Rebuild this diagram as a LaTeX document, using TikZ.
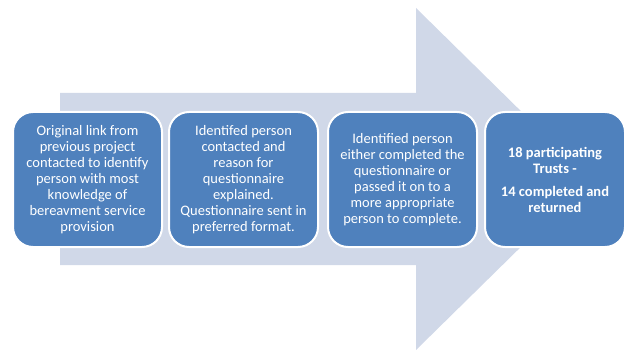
\documentclass[tikz,border=0pt]{standalone}
\usepackage{fontspec}
\setmainfont{Carlito}
\definecolor{arrowfill}{HTML}{D0D8E8}
\definecolor{stepfill}{HTML}{4F81BD}
\begin{document}
\begin{tikzpicture}[x=1pt,y=-1pt,
  stepbox/.style={draw=white, line width=2pt, fill=stepfill, rounded corners=20pt,
    minimum height=135pt, text=white, align=center, inner sep=0pt,
    font=\fontsize{14.5}{16}\selectfont}]
\useasboundingbox (0,0) rectangle (626,350);
% broad background arrow
\fill[arrowfill] (60,93) -- (416,93) -- (416,8) -- (590,179) -- (416,350)
  -- (416,265) -- (60,265) -- cycle;
% process steps
\node[stepbox, minimum width=149pt] (b1) at (87.5,179.5)
  {Original link from\\previous project\\contacted to identify\\person with most\\knowledge of\\bereavment service\\provision};
\node[stepbox, minimum width=149pt] (b2) at (243.5,179.5)
  {Identifed person\\contacted and\\reason for\\questionnaire\\explained.\\Questionnaire sent in\\preferred format.};
\node[stepbox, minimum width=149pt] (b3) at (402.5,179.5)
  {Identified person\\either completed the\\questionnaire or\\passed it on to a\\more appropriate\\person to complete.};
\node[stepbox, minimum width=140pt, font=\fontsize{14.5}{16}\selectfont\bfseries] (b4) at (555,179.5)
  {18 participating\\Trusts -\\[7pt]14 completed and\\returned};
\end{tikzpicture}
\end{document}
